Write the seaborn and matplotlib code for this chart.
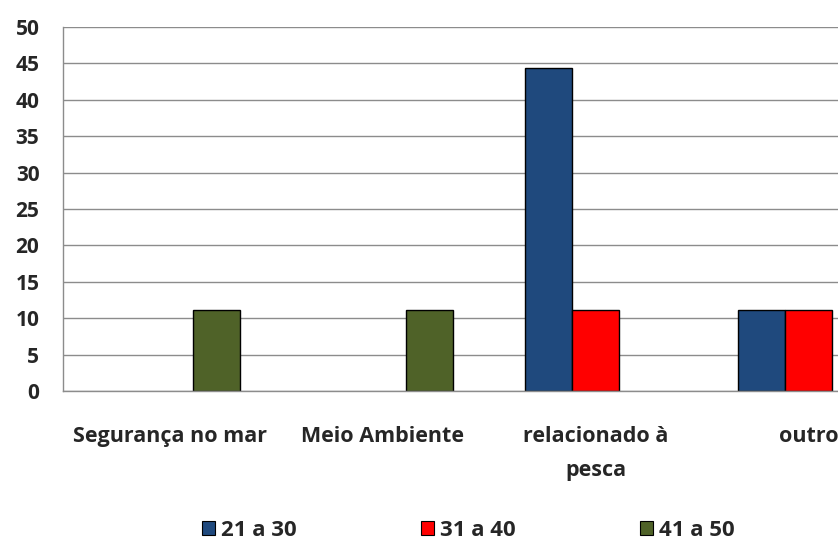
import pandas as pd
import matplotlib.pyplot as plt
import seaborn as sns
import numpy as np
from matplotlib.patches import Patch

categories = ['Segurança no mar', 'Meio Ambiente', 'relacionado à\npesca', 'outro']
groups = ['21 a 30', '31 a 40', '41 a 50']
v_21_30 = [np.nan, np.nan, 44.4, 11.1]
v_31_40 = [np.nan, np.nan, 11.1, 11.1]
v_41_50 = [11.1, 11.1, np.nan, np.nan]
colors = ['#1F497D', '#FF0000', '#4F6228']

df = pd.DataFrame({
    'cat': categories * 3,
    'grupo': [g for g in groups for _ in categories],
    'valor': v_21_30 + v_31_40 + v_41_50,
})

sns.set_style('white')
plt.rcParams['font.family'] = ['Open Sans', 'DejaVu Sans']

fig = plt.figure(figsize=(8.38, 5.45), dpi=100)
ax = fig.add_axes([63/838, 154/545, 775/838, 364/545])

sns.barplot(data=df, x='cat', y='valor', hue='grupo', order=categories,
            hue_order=groups, palette=colors, saturation=1, width=0.66,
            edgecolor='black', linewidth=1, ax=ax, legend=False)

ax.set_yticks(range(0, 51, 5))
ax.set_xticks(np.arange(-0.5, 4, 1), minor=True)
# right part of the last group is cut off in the original
ax.set_xlim(-0.5, -0.5 + 775/213)
ax.set_ylim(0, 50)
ax.yaxis.grid(True, color='#8c8c8c', lw=1)
ax.set_axisbelow(True)
for s in ['top', 'right']:
    ax.spines[s].set_visible(False)
for s in ['left', 'bottom']:
    ax.spines[s].set_color('#8c8c8c')
    ax.spines[s].set_linewidth(1)

ax.set_xlabel('')
ax.set_ylabel('')
ax.tick_params(axis='y', length=6, color='#8c8c8c', pad=11, labelsize=15)
ax.tick_params(axis='x', length=0, pad=25, labelsize=15.5)
ax.tick_params(axis='x', which='minor', length=7, color='#8c8c8c')
for lab in ax.get_yticklabels() + ax.get_xticklabels():
    lab.set_fontweight('bold')
for lab in ax.get_xticklabels():
    lab.set_multialignment('center')
    lab.set_verticalalignment('top')
    lab.set_linespacing(1.8)

handles = [Patch(facecolor=c, edgecolor='black', lw=0.8) for c in colors]
fig.legend(handles, groups, loc='center', bbox_to_anchor=(468/838, 15/545),
           ncol=3, frameon=False, handlelength=0.6, handleheight=0.6,
           handletextpad=0.25, columnspacing=5.6,
           prop={'weight': 'bold', 'size': 16})

plt.savefig('out.png', dpi=100)
